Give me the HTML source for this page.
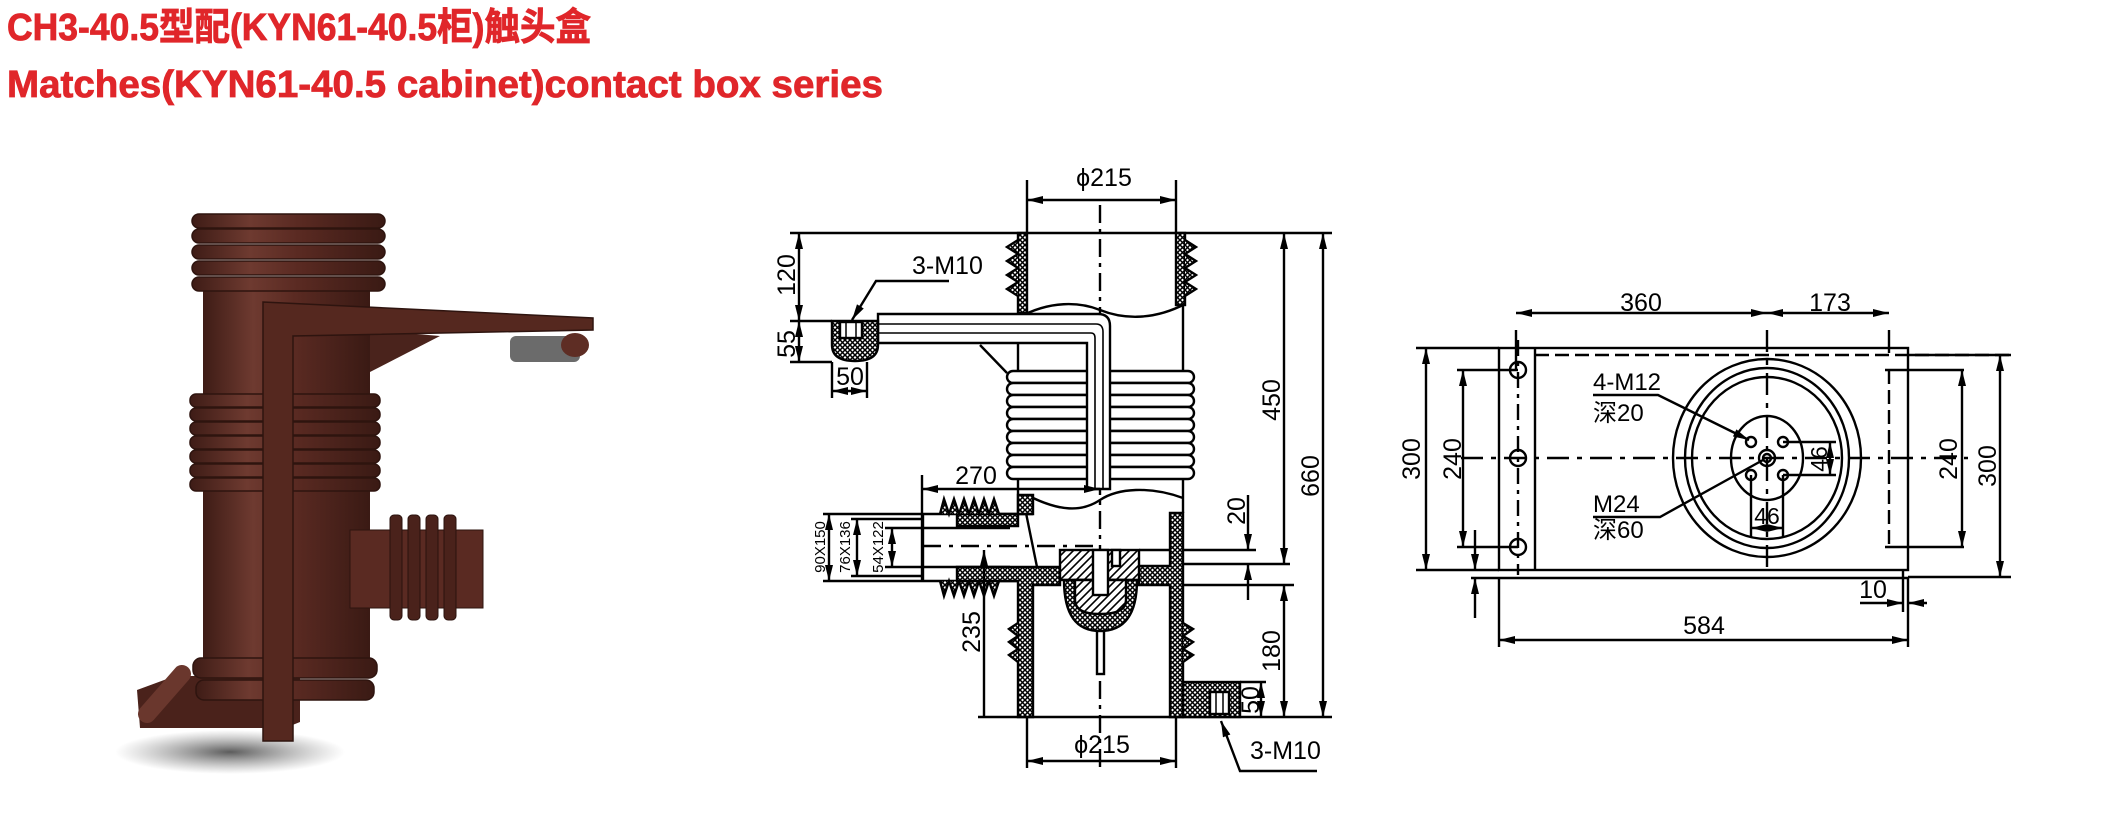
<!DOCTYPE html>
<html><head><meta charset="utf-8"><style>
html,body{margin:0;padding:0;background:#fff;}
svg{display:block;}
text{font-family:"Liberation Sans","Noto Sans CJK SC",sans-serif;}
</style></head><body>
<svg width="2101" height="835" viewBox="0 0 2101 835" xmlns="http://www.w3.org/2000/svg">
<defs>
<pattern id="h" width="5" height="5" patternUnits="userSpaceOnUse">
<rect width="5" height="5" fill="#fff"/>
<path d="M0 0L5 5M5 0L0 5" stroke="#000" stroke-width="1.5"/>
</pattern>
<pattern id="d" width="8" height="8" patternUnits="userSpaceOnUse">
<rect width="8" height="8" fill="#fff"/>
<path d="M0 8L8 0M-2 2L2 -2M6 10L10 6" stroke="#000" stroke-width="1.6"/>
</pattern>
<marker id="a" viewBox="0 0 16 8" refX="16" refY="4" markerWidth="16" markerHeight="8" markerUnits="userSpaceOnUse" orient="auto-start-reverse">
<path d="M0 0L16 4L0 8Z" fill="#000"/>
</marker>
<linearGradient id="br" x1="0" x2="1" y1="0" y2="0">
<stop offset="0" stop-color="#3e1c16"/><stop offset="0.3" stop-color="#6e3a30"/><stop offset="0.55" stop-color="#5a2a22"/><stop offset="1" stop-color="#3a1a14"/>
</linearGradient>
<radialGradient id="sh" cx="0.5" cy="0.5" r="0.5"><stop offset="0" stop-color="#333" stop-opacity="0.8"/><stop offset="1" stop-color="#666" stop-opacity="0"/></radialGradient>
</defs>

<!-- Titles -->
<g fill="#e0262a" stroke="#e0262a" stroke-width="0.8">
<text x="7" y="40" font-size="38" font-weight="bold" textLength="584" lengthAdjust="spacingAndGlyphs">CH3-40.5型配(KYN61-40.5柜)触头盒</text>
<text x="7" y="97" font-size="38" font-weight="bold" textLength="876" lengthAdjust="spacingAndGlyphs">Matches(KYN61-40.5 cabinet)contact box series</text>
</g>

<!-- Photo -->
<g>
<ellipse cx="230" cy="752" rx="115" ry="22" fill="url(#sh)"/>
<path d="M137 690 L175 676 L300 676 L300 722 L285 728 L140 728 Z" fill="#4a221b"/>
<line x1="147" y1="714" x2="182" y2="674" stroke="#6a372d" stroke-width="18" stroke-linecap="round"/>
<rect x="203" y="290" width="167" height="375" fill="url(#br)"/>
<g fill="url(#br)" stroke="#2e140f" stroke-width="1.5">
<rect x="192" y="214" width="193" height="14" rx="7"/>
<rect x="192" y="229" width="193" height="14" rx="7"/>
<rect x="192" y="245" width="193" height="14" rx="7"/>
<rect x="192" y="261" width="193" height="14" rx="7"/>
<rect x="192" y="277" width="193" height="14" rx="7"/>
<rect x="190" y="394" width="190" height="13" rx="6"/>
<rect x="190" y="408" width="190" height="13" rx="6"/>
<rect x="190" y="422" width="190" height="13" rx="6"/>
<rect x="190" y="436" width="190" height="13" rx="6"/>
<rect x="190" y="450" width="190" height="13" rx="6"/>
<rect x="190" y="464" width="190" height="13" rx="6"/>
<rect x="190" y="478" width="190" height="13" rx="6"/>
<rect x="193" y="658" width="184" height="20" rx="8"/>
<rect x="196" y="680" width="178" height="20" rx="8"/>
</g>
<path d="M370 330 L440 336 L370 372 Z" fill="#4a231c"/>
<path d="M263 302 L593 318 L593 330 L293 336 L293 741 L263 741 Z" fill="#55281f" stroke="#2e140f" stroke-width="1.5"/>
<rect x="510" y="336" width="70" height="26" rx="6" fill="#6b6b6b"/>
<ellipse cx="575" cy="345" rx="14" ry="12" fill="#5e2d24"/>
<rect x="350" y="530" width="133" height="78" fill="#5a2a22" stroke="#2e140f"/>
<g fill="#4a221b" stroke="#2a120e">
<rect x="390" y="515" width="12" height="105" rx="4"/>
<rect x="408" y="515" width="12" height="105" rx="4"/>
<rect x="426" y="515" width="12" height="105" rx="4"/>
<rect x="444" y="515" width="12" height="105" rx="4"/>
</g>
</g>

<!-- Side section drawing -->
<g stroke="#000" stroke-width="2.4" fill="none">
<path d="M790 233H1332M978 717H1332M1139 550H1256M1183 564H1290M1183 585H1294"/>
<path d="M1027 180V233M1176 180V233M1027 717V768M1176 717V768"/>
<path d="M1100 205V772" stroke-dasharray="18 6 4 6"/>
<path d="M923 546H1100" stroke-dasharray="18 8 4 8"/>
<rect x="1018" y="233" width="9" height="80" fill="url(#h)"/>
<rect x="1176" y="233" width="9" height="72" fill="url(#h)"/>
<path d="M1018 240L1007 247L1018 254L1007 261L1018 268L1007 275L1018 282L1007 289L1018 296" fill="url(#h)"/>
<path d="M1185 240L1196 247L1185 254L1196 261L1185 268L1196 275L1185 282L1196 289L1185 296" fill="url(#h)"/>
<path d="M1018 318C1050 300 1080 302 1100 310S1150 322 1185 304"/>
<path d="M1018 313V371M1183 305V371"/>
<g fill="#fff">
<rect x="1007" y="371" width="187" height="12" rx="6"/><rect x="1007" y="383" width="187" height="12" rx="6"/>
<rect x="1007" y="395" width="187" height="12" rx="6"/><rect x="1007" y="407" width="187" height="12" rx="6"/>
<rect x="1007" y="419" width="187" height="12" rx="6"/><rect x="1007" y="431" width="187" height="12" rx="6"/>
<rect x="1007" y="443" width="187" height="12" rx="6"/><rect x="1007" y="455" width="187" height="12" rx="6"/>
<rect x="1007" y="467" width="187" height="12" rx="6"/>
</g>
<path d="M1018 479V513M1183 479V513"/>
<path d="M878 314H1098Q1110 314 1110 326V489H1087V343H878Z" fill="#fff"/>
<path d="M878 324H1096Q1103 324 1103 332V489M878 333H1091Q1095 333 1095 338V489" stroke-width="1.6"/>
<path d="M832 321H878V345Q878 361 855 361Q832 361 832 345Z" fill="url(#h)"/>
<rect x="840" y="322" width="22" height="16" fill="#fff"/>
<path d="M846 322V338M856 322V338" stroke-width="1.5"/>
<path d="M980 345L1007 373"/>
<path d="M1027 495C1060 512 1082 512 1100 500S1150 486 1183 498" />
<path d="M923 514H1033M923 581H1033M923 514V581"/>
<path d="M823 514H923M823 581H923M851 519H923M851 576H923M885 528H1010M885 567H1010"/>
<path d="M957 514H1033V495H1018V526H957Z" fill="url(#h)"/>
<path d="M940 514L944 499L949 514L954 499L959 514L964 499L969 514L974 499L979 514L984 499L989 514L994 499L999 514" fill="url(#h)"/>
<path d="M940 581L944 596L949 581L954 596L959 581L964 596L969 581L974 596L979 581L984 596L989 581L994 596L999 581" fill="url(#h)"/>
<path d="M957 567H1060V585H1033V717H1018V581H957Z" fill="url(#h)"/>
<path d="M1139 566H1170V513H1183V717H1170V585H1139Z" fill="url(#h)"/>
<path d="M1026 513L1037 567"/>
<path d="M1018 623L1009 629L1018 636L1009 642L1018 649L1009 655L1018 662" fill="url(#h)"/>
<path d="M1183 623L1193 629L1183 636L1193 642L1183 649L1193 655L1183 662" fill="url(#h)"/>
<rect x="1060" y="550" width="79" height="30" fill="url(#d)"/>
<path d="M1064 580Q1064 631 1100 631Q1137 631 1137 580Z" fill="url(#h)"/>
<path d="M1075 580H1126V600Q1126 614 1100 614Q1075 614 1075 600Z" fill="url(#d)"/>
<rect x="1093" y="550" width="15" height="45" fill="#fff"/>
<rect x="1112" y="550" width="8" height="16" fill="#fff"/>
<rect x="1097" y="631" width="7" height="43" fill="#fff"/>
<rect x="1183" y="682" width="57" height="35" fill="url(#h)"/>
<rect x="1210" y="692" width="19" height="22" fill="#fff"/>
<path d="M1216 692V714M1223 692V714" stroke-width="1.5"/>
<path d="M1027 200H1176" marker-start="url(#a)" marker-end="url(#a)"/>
<path d="M1027 761H1176" marker-start="url(#a)" marker-end="url(#a)"/>
<path d="M799 233V321" marker-start="url(#a)" marker-end="url(#a)"/>
<path d="M799 321V362" marker-start="url(#a)" marker-end="url(#a)"/>
<path d="M790 321H832M790 362H832"/>
<path d="M832 362V398M867 362V398"/>
<path d="M832 391H867" marker-start="url(#a)" marker-end="url(#a)"/>
<path d="M949 281H876L852 320" marker-end="url(#a)"/>
<path d="M922 475V581"/>
<path d="M922 489H1100" marker-start="url(#a)" marker-end="url(#a)"/>
<path d="M829 514V581" marker-start="url(#a)" marker-end="url(#a)"/>
<path d="M857 519V576" marker-start="url(#a)" marker-end="url(#a)"/>
<path d="M892 528V567" marker-start="url(#a)" marker-end="url(#a)"/>
<path d="M984 550V717" marker-start="url(#a)"/>
<path d="M1284 233V564" marker-start="url(#a)" marker-end="url(#a)"/>
<path d="M1284 585V717" marker-start="url(#a)" marker-end="url(#a)"/>
<path d="M1323 233V717" marker-start="url(#a)" marker-end="url(#a)"/>
<path d="M1248 495V550" marker-end="url(#a)"/>
<path d="M1248 600V564" marker-end="url(#a)"/>
<path d="M1261 682V717" marker-start="url(#a)" marker-end="url(#a)"/>
<path d="M1240 682H1266"/>
<path d="M1317 771H1240L1221 721" marker-end="url(#a)"/>
</g>
<g font-size="25" fill="#000" text-anchor="middle">
<text x="1104" y="186">ϕ215</text>
<text x="1102" y="753">ϕ215</text>
<text x="912" y="274" text-anchor="start">3-M10</text>
<text x="1250" y="759" text-anchor="start">3-M10</text>
<text x="976" y="484">270</text>
<text x="850" y="385">50</text>
<text transform="translate(795 275) rotate(-90)">120</text>
<text transform="translate(795 344) rotate(-90)">55</text>
<text transform="translate(1280 400) rotate(-90)">450</text>
<text transform="translate(1319 476) rotate(-90)">660</text>
<text transform="translate(1245 511) rotate(-90)">20</text>
<text transform="translate(1280 651) rotate(-90)">180</text>
<text transform="translate(1259 700) rotate(-90)">50</text>
<text transform="translate(980 632) rotate(-90)">235</text>
<g font-size="15">
<text transform="translate(825 547) rotate(-90)">90X150</text>
<text transform="translate(850 547) rotate(-90)">76X136</text>
<text transform="translate(883 547) rotate(-90)">54X122</text>
</g>
</g>

<!-- Top view drawing -->
<g stroke="#000" stroke-width="2.4" fill="none">
<rect x="1499" y="348" width="409" height="222"/>
<path d="M1535 348V570M1471 578H1908M1416 570H1499M1416 348H1499"/>
<path d="M1535 355H2011" stroke-dasharray="14 6"/>
<path d="M1908 355H2011M1908 577H2011"/>
<path d="M1461 458H1968" stroke-dasharray="22 8 5 8"/>
<path d="M1518 340V575" stroke-dasharray="16 6 4 6"/>
<path d="M1767 330V575" stroke-dasharray="22 8 5 8"/>
<path d="M1889 370V547" stroke-dasharray="14 6"/>
<path d="M1516 330V370M1889 330V353"/>
<path d="M1457 370H1518M1457 547H1518M1885 370H1964M1885 547H1964"/>
<ellipse cx="1767" cy="458" rx="94" ry="99"/>
<ellipse cx="1767" cy="458" rx="82" ry="90"/>
<ellipse cx="1767" cy="458" rx="75" ry="81"/>
<ellipse cx="1767" cy="458" rx="36" ry="42"/>
<circle cx="1767" cy="458" r="8"/><circle cx="1767" cy="458" r="4"/>
<g fill="#fff"><circle cx="1751" cy="442" r="5"/><circle cx="1783" cy="442" r="5"/><circle cx="1751" cy="475" r="5"/><circle cx="1783" cy="475" r="5"/></g>
<ellipse cx="1518" cy="370" rx="8" ry="8"/><ellipse cx="1518" cy="458" rx="8" ry="8"/><ellipse cx="1518" cy="547" rx="8" ry="8"/>
<path d="M1516 313H1767" marker-start="url(#a)" marker-end="url(#a)"/>
<path d="M1767 313H1889" marker-start="url(#a)" marker-end="url(#a)"/>
<path d="M1426 348V570" marker-start="url(#a)" marker-end="url(#a)"/>
<path d="M1463 370V547" marker-start="url(#a)" marker-end="url(#a)"/>
<path d="M1962 370V547" marker-start="url(#a)" marker-end="url(#a)"/>
<path d="M2000 355V577" marker-start="url(#a)" marker-end="url(#a)"/>
<path d="M1499 578V647M1908 578V647"/>
<path d="M1499 640H1908" marker-start="url(#a)" marker-end="url(#a)"/>
<path d="M1903 570V612"/>
<path d="M1860 603H1903" marker-end="url(#a)"/>
<path d="M1927 603H1908" marker-end="url(#a)"/>
<path d="M1475 530V570" marker-end="url(#a)"/>
<path d="M1475 618V578" marker-end="url(#a)"/>
<path d="M1593 395H1658L1749 440" marker-end="url(#a)"/>
<path d="M1593 517H1660L1763 460"/>
<path d="M1783 442H1836M1783 475H1836"/>
<path d="M1830 442V475" marker-start="url(#a)" marker-end="url(#a)"/>
<path d="M1751 475V537M1783 475V537"/>
<path d="M1751 528H1783" marker-start="url(#a)" marker-end="url(#a)"/>
</g>
<g font-size="25" fill="#000" text-anchor="middle">
<text x="1641" y="311">360</text>
<text x="1830" y="311">173</text>
<text x="1704" y="634">584</text>
<text x="1873" y="598">10</text>
<text x="1767" y="524" font-size="23">46</text>
<text transform="translate(1827 459) rotate(-90)" font-size="23">46</text>
<text transform="translate(1420 459) rotate(-90)">300</text>
<text transform="translate(1461 459) rotate(-90)">240</text>
<text transform="translate(1957 459) rotate(-90)">240</text>
<text transform="translate(1996 466) rotate(-90)">300</text>
<g text-anchor="start" font-size="24">
<text x="1593" y="390">4-M12</text>
<text x="1593" y="421">深20</text>
<text x="1593" y="512">M24</text>
<text x="1593" y="538">深60</text>
</g>
</g>
</svg>
</body></html>
